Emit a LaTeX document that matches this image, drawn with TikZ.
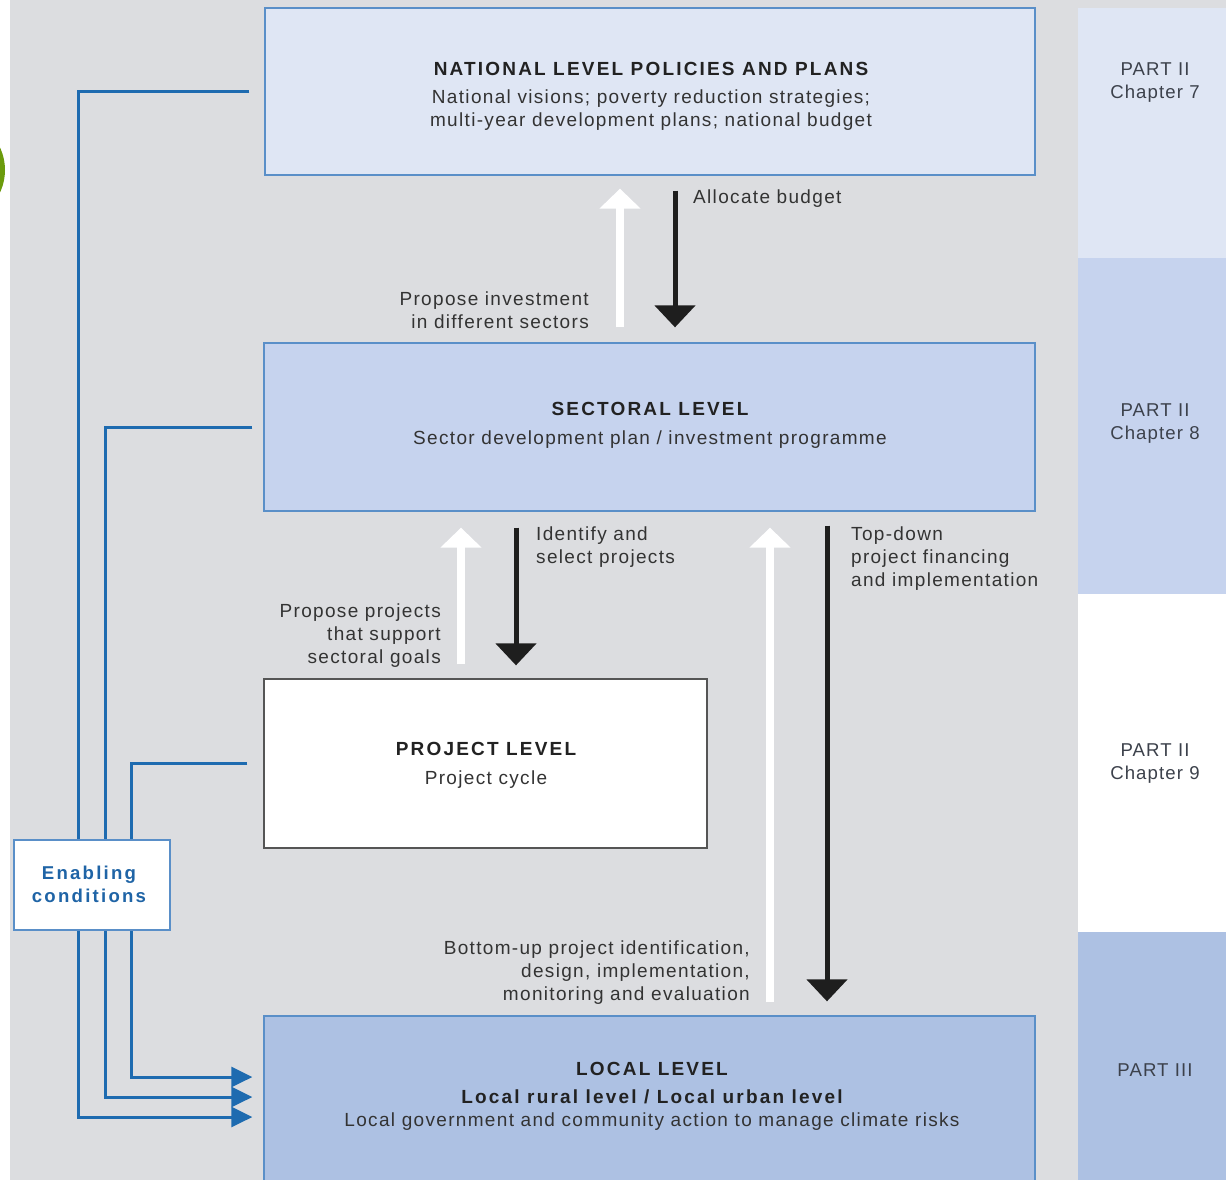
\documentclass[tikz,border=0pt]{standalone}
\usepackage{fontspec}
\setmainfont{Liberation Sans}[LetterSpace=6]
\newfontfamily\bodyfont{Liberation Sans}[LetterSpace=7]
\newfontfamily\headfont{Liberation Sans}[LetterSpace=11.5]
\newfontfamily\enabfont{Liberation Sans}[LetterSpace=12]
\usetikzlibrary{arrows.meta,calc}
\definecolor{bggray}{HTML}{DCDDE0}
\definecolor{natfill}{HTML}{DFE6F4}
\definecolor{secfill}{HTML}{C6D3EE}
\definecolor{locfill}{HTML}{ADC1E3}
\definecolor{boxblue}{HTML}{5A8FC8}
\definecolor{lineblue}{HTML}{1E6BB0}
\definecolor{enabtext}{HTML}{1F64A6}
\definecolor{txtgray}{HTML}{333333}
\definecolor{headgray}{HTML}{222222}
\definecolor{partgray}{HTML}{3C414B}
\definecolor{projborder}{HTML}{555555}
\definecolor{arrblack}{HTML}{1E1E1E}
\definecolor{dotgreen}{HTML}{6B9B0C}
\newcommand\fsz{\fontsize{19}{23}\bodyfont\selectfont}
\newcommand\fszb{\fontsize{19}{23}\headfont\bfseries\selectfont}
\tikzset{
  levelbox/.style={draw=boxblue, line width=1.3pt, inner sep=0pt},
  txt/.style={inner sep=0pt, text=txtgray, font=\fsz},
  headtxt/.style={inner sep=0pt, text=headgray, font=\fszb},
  parttxt/.style={inner sep=0pt, text=partgray, font=\fontsize{18.6}{23}\selectfont, align=center},
  bline/.style={draw=lineblue, line width=3pt},
  barrow/.style={bline, -{Triangle[length=21pt,width=20pt]}},
  darr/.style={line width=5pt, draw=arrblack, -{Triangle[length=22pt,width=40pt]}},
  warr/.style={line width=8pt, draw=white, -{Triangle[length=20pt,width=40pt]}},
}
\begin{document}
\begin{tikzpicture}[x=1pt,y=-1pt]
\useasboundingbox (0,0) rectangle (1226,1179);
\clip (0,0) rectangle (1226,1179);
\fill[bggray] (0,-5) rectangle (1230,1190);
\fill[white] (-5,-5) rectangle (10,1190);
\fill[dotgreen] (-48,170) circle[radius=53pt];

% right column
\fill[natfill] (1078,8) rectangle (1230,258);
\fill[secfill] (1078,258) rectangle (1230,594);
\fill[white] (1078,594) rectangle (1230,932);
\fill[locfill] (1078,932) rectangle (1230,1190);
\node[parttxt] (p7) at (1155,82.5) {PART II\\Chapter 7};
\node[parttxt] (p8) at (1155,423.5) {PART II\\Chapter 8};
\node[parttxt] (p9) at (1155,763.5) {PART II\\Chapter 9};
\node[parttxt] (p3) at (1155,1070) {PART III};

% level boxes
\node[levelbox, fill=natfill, minimum width=770pt, minimum height=167pt] (nat) at (650,91.5) {};
\node[levelbox, fill=secfill, minimum width=771pt, minimum height=168pt] (sec) at (649.5,427) {};
\node[draw=projborder, line width=1.3pt, inner sep=0pt, fill=white, minimum width=443pt, minimum height=169pt] (proj) at (485.5,763.5) {};
\node[levelbox, fill=locfill, minimum width=771pt, minimum height=190pt] (loc) at (649.5,1111) {};

% texts in boxes
\node[headtxt] (natH) at (651,69) {NATIONAL LEVEL POLICIES AND PLANS};
\node[txt, align=center] (natB) at (651,110.5) {National visions; poverty reduction strategies;\\multi-year development plans; national budget};
\node[headtxt] (secH) at (650,409) {SECTORAL LEVEL};
\node[txt] (secB) at (650,440) {Sector development plan / investment programme};
\node[headtxt] (projH) at (486,749) {PROJECT LEVEL};
\node[txt] (projB) at (486,780) {Project cycle};
\node[headtxt] (locH) at (652,1069) {LOCAL LEVEL};
\node[headtxt] (locS) at (652,1097) {Local rural level / Local urban level};
\node[txt] (locB) at (652,1122) {Local government and community action to manage climate risks};

% vertical arrows
\draw[warr] ($(sec.north)+(-29.5,-15)$) -- ($(nat.south)+(-30,13)$);
\draw[darr] ($(nat.south)+(25,15)$) -- ($(sec.north)+(25.5,-15)$);
\draw[warr] ($(proj.north)+(-24.5,-14)$) -- ($(sec.south)+(-188.5,16)$);
\draw[darr] ($(sec.south)+(-133.5,16)$) -- ($(proj.north)+(30.5,-13)$);
\draw[warr] ($(loc.north)+(120.5,-13)$) -- ($(sec.south)+(120.5,16)$);
\draw[darr] ($(sec.south)+(177.5,14)$) -- ($(loc.north)+(177.5,-14)$);

\node[txt, anchor=west] (alloc) at (693,199) {Allocate budget};
\node[txt, anchor=east, align=right] (propinv) at (589,310.5) {Propose investment\\in different sectors};
\node[txt, anchor=west, align=left] (ident) at (536,547.5) {Identify and\\select projects};
\node[txt, anchor=west, align=left] (topdown) at (851,559) {Top-down\\project financing\\and implementation};
\node[txt, anchor=east, align=right] (propproj) at (441,636) {Propose projects\\that support\\sectoral goals};
\node[txt, anchor=east, align=right] (bottomup) at (750,973) {Bottom-up project identification,\\design, implementation,\\monitoring and evaluation};

% enabling condition connectors
\coordinate (k1) at (78,1117);
\coordinate (k2) at (105,1097);
\coordinate (k3) at (131,1077);
\draw[barrow] ([xshift=-15pt]nat.west) -| (k1) -- ([xshift=-11pt]loc.west |- k1);
\draw[barrow] ([xshift=-11pt]sec.west) -| (k2) -- ([xshift=-11pt]loc.west |- k2);
\draw[barrow] ([xshift=-16pt]proj.west) -| (k3) -- ([xshift=-11pt]loc.west |- k3);

\node[draw=boxblue, line width=1.3pt, fill=white, minimum width=156pt, minimum height=90pt, inner sep=0pt] (enab) at (92,885) {};
\node[inner sep=0pt, align=center, text=enabtext, font=\fontsize{18.6}{23}\enabfont\bfseries\selectfont] (enabT) at (89,884.5) {Enabling\\conditions};
\end{tikzpicture}
\end{document}
